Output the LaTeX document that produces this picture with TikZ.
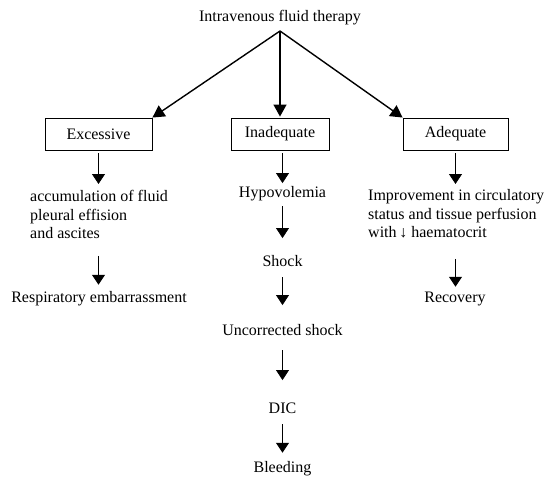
\documentclass[tikz,border=0pt]{standalone}
\usepackage{fontspec}
\setmainfont{Liberation Serif}
\usetikzlibrary{arrows.meta}

\begin{document}
\begin{tikzpicture}[x=1pt, y=-1pt,
    font=\fontsize{16}{18.5}\selectfont,
    label/.style={inner sep=0pt, text height=11pt, text depth=3.5pt},
    para/.style={inner sep=0pt, align=left, anchor=north west},
    box/.style={draw, line width=0.9pt, minimum height=32pt, inner sep=0pt},
    flow/.style={-{Triangle[width=13pt,length=10pt]}, line width=0.8pt},
    branch/.style={-{Triangle[width=13pt,length=12pt]}, line width=1.4pt}]

    \useasboundingbox (0,0) rectangle (548,481);

    % Top
    \node[label] (ivf) at (280,17.5) {Intravenous fluid therapy};
    \coordinate (apex) at (280,31);

    % Boxes
    \node[box, minimum width=107pt] (exc)  at (98.5,134)  {Excessive};
    \node[box, minimum width=98pt]  (inad) at (280,134)   {Inadequate};
    \node[box, minimum width=105pt] (adeq) at (455.5,134) {Adequate};

    % Branches
    \draw[branch] (apex) -- (exc.north east);
    \draw[branch, shorten >=1pt] (apex) -- (inad.north);
    \draw[branch] (apex) -- (adeq.north west);

    % Excessive
    \node[para] (acc) at (30,190.4)
        {accumulation of fluid\\pleural effision\\and ascites};
    \node[label] (resp) at (99,298.5) {Respiratory embarrassment};

    \draw[flow, shorten <=3pt, shorten >=6.4pt] (exc.south) -- (exc.south |- acc.north);
    \draw[flow, shorten <=16.6pt, shorten >=6.3pt] (exc.south |- acc.south) -- (exc.south |- resp.north);

    % Inadequate
    \node[label] (hypo)  at (282.5,193.5) {Hypovolemia};
    \node[label] (shock) at (282.5,262.5) {Shock};
    \node[label] (unc)   at (282.5,332)   {Uncorrected shock};
    \node[label] (dic)   at (282.5,409.5) {DIC};
    \node[label] (bleed) at (282.5,469)   {Bleeding};

    \draw[flow, shorten <=3pt, shorten >=3pt] (hypo.north |- inad.south) -- (hypo.north);
    \draw[flow, shorten <=5.3pt, shorten >=17pt] (hypo) -- (shock);
    \draw[flow, shorten <=7.3pt, shorten >=19.5pt] (shock) -- (unc);
    \draw[flow, shorten <=10.8pt, shorten >=22pt] (unc) -- (dic);
    \draw[flow, shorten <=7.3pt, shorten >=8.8pt] (dic) -- (bleed);

    % Adequate
    \node[para] (imp) at (368,189.5)
        {Improvement in circulatory\\status and tissue perfusion\\with\,↓ haematocrit};
    \node[label] (rec) at (455,298.5) {Recovery};

    \draw[flow, shorten <=3pt, shorten >=5.5pt] (adeq.south) -- (adeq.south |- imp.north);
    \draw[flow, shorten <=20.5pt, shorten >=4.3pt] (adeq.south |- imp.south) -- (adeq.south |- rec.north);

\end{tikzpicture}
\end{document}
